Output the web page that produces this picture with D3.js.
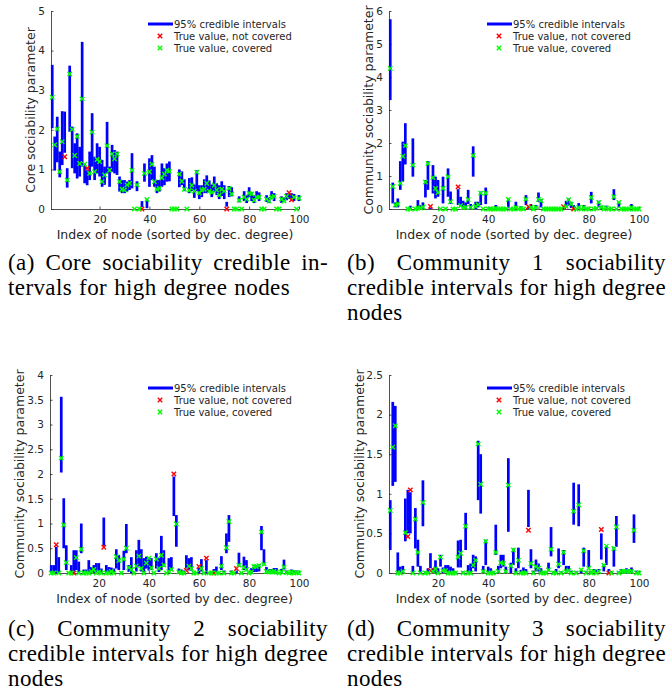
<!DOCTYPE html>
<html><head><meta charset="utf-8">
<script src="https://cdn.jsdelivr.net/npm/d3@7"></script>
<style>
body{margin:0;background:#fff;}
svg{display:block;}
</style></head><body>
<svg id="fig" width="668" height="692"></svg>
<script>
// Node index 1..100 (sorted by decreasing degree)
const nodeIndex = d3.range(1, 101);
const xTicks = [20, 40, 60, 80, 100];

// (a) core sociability: interval lower / upper bounds and true values
const coreLo = [
  2.04,0.97,1.18,0.80,1.11,1.42,0.54,1.95,1.03,0.90,
  0.77,0.82,1.07,0.65,0.60,0.73,1.07,0.73,0.90,0.82,
  0.56,0.61,0.90,0.56,0.94,0.90,0.86,0.44,0.40,0.40,
  0.44,0.48,0.52,0,0.45,0,0.05,0.69,0.02,0.56,
  0.73,0.56,0.40,0.44,0.56,0.60,0.69,0.70,0,0,
  0,0.55,0.60,0.45,0,0.40,0.45,0.28,0.45,0.25,
  0.30,0.40,0.40,0.42,0.30,0.42,0.35,0.25,0.33,0.25,
  0.06,0.30,0.32,0,0,0.17,0,0.20,0.15,0.30,
  0.20,0.15,0.25,0.20,0,0,0.18,0.15,0.25,0.20,
  0,0,0.15,0.18,0.22,0.25,0.26,0.20,0,0.20];
const coreHi = [
  3.64,1.83,2.33,1.45,2.47,2.46,1.03,3.62,2.08,1.66,
  1.91,1.57,4.22,1.15,0.98,1.45,2.42,1.32,1.66,1.57,
  1.24,1.07,2.20,1.07,1.62,1.49,1.45,0.82,0.73,0.73,
  0.69,0.73,1.41,0.01,0.70,0.01,0.20,1.15,0.25,1.28,
  1.36,1.07,0.73,0.73,1.15,1.03,1.15,1.20,0.01,0.01,
  0.01,1.00,0.95,0.75,0.01,0.78,0.80,0.62,0.98,0.60,
  0.60,0.75,0.85,0.72,0.62,0.82,0.65,0.60,0.70,0.60,
  0.18,0.58,0.55,0.01,0.01,0.32,0.01,0.45,0.35,0.55,
  0.42,0.35,0.45,0.42,0.01,0.01,0.35,0.30,0.45,0.40,
  0.01,0.01,0.32,0.30,0.40,0.38,0.40,0.38,0.01,0.35];
const coreTrue = [
  2.82,1.62,2.02,0.94,1.70,1.32,0.73,3.41,2.01,1.35,
  1.83,1.15,2.78,1.13,1.03,0.90,1.94,0.94,1.25,1.20,
  0.69,0.86,1.60,0.98,1.39,1.27,1.39,0.69,0.50,0.48,
  0.61,0.65,0.98,0,0.61,0,0,0.90,0.24,0.94,
  1.13,0.69,0.50,0.52,0.79,0.88,0.98,0.95,0,0,
  0,0.88,0.70,0.50,0,0.47,0.60,0.45,0.93,0.40,
  0.48,0.50,0.65,0.45,0.42,0.60,0.48,0.35,0.50,0.45,
  0,0.52,0.38,0,0,0.22,0,0.30,0.25,0.40,
  0.38,0.22,0.30,0.30,0,0,0.25,0.20,0.30,0.32,
  0,0,0.25,0.20,0.32,0.41,0.23,0.30,0,0.27];

// (b) community 1 sociability
const comm1Lo = [
  3.30,0.17,0.05,0.05,0.58,0.83,1.35,0,0,0.98,
  0,0,0,0,0.35,0.58,0,0.47,0.32,0.37,
  0,0.17,0,0.37,0.15,0,0,0.12,0.07,0.03,
  0,0.15,0,0.98,0,0.05,0.12,0,0.15,0,
  0,0,0,0,0,0,0,0.02,0,0,
  0.02,0,0,0,0.12,0,0.03,0,0.02,0.22,
  0.05,0,0,0,0,0,0,0,0,0,
  0.05,0.10,0.03,0.03,0,0.02,0,0.03,0,0,
  0.17,0,0,0.05,0,0,0.02,0,0,0.27,
  0,0.05,0,0,0,0,0.03,0,0,0];
const comm1Hi = [
  5.75,0.80,0.20,0.32,1.45,2.04,2.60,0.01,0.10,2.14,
  0.02,0.27,0.12,0.20,0.88,1.45,0.04,1.33,0.98,0.88,
  0.01,0.98,0.01,1.23,0.53,0.01,0.02,0.60,0.37,0.25,
  0.20,0.58,0.15,1.90,0.22,0.22,0.53,0.01,0.65,0.01,
  0.05,0.01,0.12,0.01,0.01,0.01,0.01,0.32,0.01,0.01,
  0.22,0.01,0.08,0.01,0.42,0.04,0.15,0.01,0.12,0.50,
  0.30,0.01,0.03,0.01,0.02,0.01,0.01,0.02,0.01,0.04,
  0.25,0.32,0.20,0.12,0.01,0.18,0.01,0.12,0.01,0.01,
  0.52,0.01,0.05,0.25,0.10,0.01,0.10,0.01,0.01,0.60,
  0.01,0.22,0.01,0.01,0.01,0.01,0.15,0.01,0.01,0.01];
const comm1True = [
  4.26,0.68,0.12,0.15,0.78,1.60,1.92,0,0,1.33,
  0,0.03,0.03,0.06,0.82,1.38,0.08,0.95,0.62,0.50,
  0,0.63,0,0.98,0.22,0,0,0.67,0.10,0.04,
  0.05,0.29,0.05,1.62,0.08,0.13,0.48,0,0.48,0,
  0,0,0.02,0,0,0,0,0.29,0,0,
  0.05,0,0.02,0,0.30,0.07,0.05,0,0.05,0.29,
  0.25,0,0,0,0,0,0,0,0,0.07,
  0.08,0.28,0.15,0,0,0.05,0,0.05,0,0,
  0.35,0,0.02,0.20,0.05,0,0.03,0,0,0.37,
  0,0.20,0,0,0,0,0.05,0,0,0];

// (c) community 2 sociability
const comm2Lo = [
  0,0,0,0,2.03,0.50,0.06,0,0,0.03,
  0.06,0,0.40,0,0,0,0,0,0,0,
  0,0.55,0,0,0,0,0.09,0.06,0,0.06,
  0.40,0.02,0,0,0.03,0.13,0.03,0,0.09,0.05,
  0.06,0,0.09,0.02,0.06,0.13,0,0,0.05,1.15,
  0.53,0,0,0,0.09,0.05,0.05,0,0,0,
  0.03,0,0,0,0,0.02,0,0,0.06,0,
  0.40,0.63,0,0,0,0.13,0,0.06,0.05,0,
  0,0.02,0.02,0.03,0.46,0.16,0.02,0,0,0,
  0,0,0,0.07,0,0,0,0,0,0];
const comm2Hi = [
  0.16,0.16,0.53,0.32,3.56,1.51,0.56,0.02,0.16,0.46,
  0.46,0.23,1.00,0.07,0.07,0.26,0.12,0.16,0.20,0.20,
  0.09,1.12,0.16,0.12,0.11,0.09,0.48,0.36,0.02,0.45,
  0.99,0.16,0.32,0.02,0.46,0.67,0.48,0.30,0.33,0.32,
  0.30,0.02,0.40,0.30,0.75,0.46,0.02,0.30,0.32,1.95,
  1.17,0.09,0.07,0.05,0.36,0.30,0.32,0.02,0.02,0.10,
  0.28,0.02,0.26,0.02,0.02,0.08,0.13,0.02,0.34,0.05,
  0.80,1.17,0.05,0.02,0.05,0.41,0.02,0.33,0.26,0.02,
  0.10,0.16,0.16,0.18,0.95,0.48,0.12,0.08,0.08,0.10,
  0.10,0.02,0.08,0.27,0.05,0.02,0.07,0.05,0.05,0.02];
const comm2True = [
  0,0,0.57,0,2.32,0.97,0.21,0,0,0,
  0.31,0,0.48,0,0,0,0.03,0.07,0,0.02,
  0,0.52,0,0,0.03,0,0.33,0.25,0,0.28,
  0.50,0.11,0.07,0,0.14,0.34,0.09,0,0.20,0.30,
  0.10,0,0.28,0.09,0.36,0.16,0,0.03,0.07,2.00,
  0.99,0.02,0,0,0.05,0.14,0.09,0,0,0.13,
  0.09,0,0.30,0,0,0,0,0,0.14,0,
  0.51,1.04,0,0,0.09,0.16,0,0.11,0.07,0,
  0.02,0.13,0.13,0.15,0.83,0.18,0.03,0.02,0.02,0.03,
  0.02,0,0.02,0.12,0.01,0,0.02,0,0.01,0];

// (d) community 3 sociability
const comm3Lo = [
  0.29,1.10,1.15,0,0,0,0.40,0.50,0.50,0,
  0.31,0.08,0,0.59,0,0,0.06,0,0,0,
  0.08,0,0.02,0,0,0,0,0.07,0.07,0,
  0.29,0,0,0.06,0.02,0.92,0.75,0,0.10,0,
  0,0,0.23,0,0.06,0.08,0,0.52,0,0.10,
  0,0.06,0,0,0,0.58,0.06,0,0.02,0.02,
  0,0,0,0.02,0.21,0,0,0.06,0,0.10,
  0.02,0.02,0,0.61,0,0.59,0,0.08,0,0.06,
  0,0.02,0,0.02,0.17,0.02,0.10,0.01,0,0.08,
  0.33,0,0,0,0,0,0,0.38,0,0];
const comm3Hi = [
  0.92,2.16,2.11,0.26,0.08,0.09,0.94,1.05,1.02,0.09,
  0.82,0.42,0.09,1.17,0.02,0.06,0.25,0.06,0.16,0.06,
  0.23,0.07,0.10,0.10,0.08,0.06,0.02,0.41,0.42,0.02,
  0.76,0.10,0.12,0.23,0.21,1.67,1.50,0.09,0.42,0.08,
  0.06,0.02,0.61,0.09,0.23,0.23,0.08,1.45,0.13,0.31,
  0.06,0.32,0.04,0.07,0.05,1.05,0.30,0.03,0.17,0.12,
  0.06,0.02,0.02,0.13,0.58,0.02,0.05,0.31,0.02,0.29,
  0.09,0.09,0.03,1.14,0.02,1.12,0.04,0.32,0.02,0.29,
  0.02,0.05,0.04,0.05,0.50,0.11,0.34,0.05,0.02,0.33,
  0.72,0.02,0.05,0.04,0.06,0.05,0.07,0.74,0.03,0.02];
const comm3True = [
  0.79,1.59,1.86,0,0,0.02,0.51,0.46,1.05,0,
  0.68,0.26,0,0.89,0,0,0.03,0.02,0.05,0,
  0.20,0.03,0.03,0,0,0,0,0.20,0.25,0,
  0.59,0,0,0.10,0.16,1.63,1.12,0.02,0.40,0,
  0,0,0.26,0.02,0.13,0.12,0.02,1.11,0.09,0.29,
  0,0.16,0,0,0,0.54,0.12,0,0.08,0.06,
  0,0,0,0.04,0.30,0,0,0.11,0,0.26,
  0.02,0.03,0,0.78,0,0.86,0.04,0.28,0,0.06,
  0,0.02,0,0.02,0.55,0.10,0.34,0,0,0.31,
  0.58,0,0.02,0.02,0.02,0.02,0.02,0.54,0,0];

// Y tick values per panel
const yTicksCore = [0, 1, 2, 3, 4, 5];
const yTicksComm1 = [0, 1, 2, 3, 4, 5, 6];
const yTicksComm2 = [0, 0.5, 1, 1.5, 2, 2.5, 3, 3.5, 4];
const yTicksComm3 = [0, 0.5, 1, 1.5, 2, 2.5];

// Text
const xLabel = "Index of node (sorted by dec. degree)";
const legendLabels = ["95% credible intervals", "True value, not covered", "True value, covered"];
const captionA = ["(a) Core sociability credible in-", "tervals for high degree nodes"];
const captionB = ["(b) Community 1 sociability", "credible intervals for high degree", "nodes"];
const captionC = ["(c) Community 2 sociability", "credible intervals for high degree", "nodes"];
const captionD = ["(d) Community 3 sociability", "credible intervals for high degree", "nodes"];

const BLUE = "#0000ff", RED = "#ff0000", GREEN = "#00ff00", AXIS = "#262626";
const SANS = "'DejaVu Sans', sans-serif";
const MARK_R = 2.2, MARK_W = 1.4;

const panels = [
  {lo: coreLo, hi: coreHi, tv: coreTrue, yMax: 5, yTicks: yTicksCore, ylabel: "Core sociability parameter",
   left: 51, right: 299, top: 11, bottom: 209, ylabX: 30, legX: 148, caption: captionA, capX: 8, capW: 320, capY: 270},
  {lo: comm1Lo, hi: comm1Hi, tv: comm1True, yMax: 6, yTicks: yTicksComm1, ylabel: "Community sociability parameter",
   left: 389, right: 639, top: 11, bottom: 209, ylabX: 368, legX: 487, caption: captionB, capX: 347, capW: 319, capY: 270},
  {lo: comm2Lo, hi: comm2Hi, tv: comm2True, yMax: 4, yTicks: yTicksComm2, ylabel: "Community sociability parameter",
   left: 50, right: 299, top: 375, bottom: 573, ylabX: 19, legX: 148, caption: captionC, capX: 8, capW: 320, capY: 636},
  {lo: comm3Lo, hi: comm3Hi, tv: comm3True, yMax: 2.5, yTicks: yTicksComm3, ylabel: "Community sociability parameter",
   left: 389, right: 639, top: 375, bottom: 573, ylabX: 359, legX: 487, caption: captionD, capX: 347, capW: 319, capY: 636}
];

const svg = d3.select("#fig");

function crossPath(cx, cy, r) {
  return `M${cx - r},${cy - r}L${cx + r},${cy + r}M${cx - r},${cy + r}L${cx + r},${cy - r}`;
}

function drawPanel(p) {
  const g = svg.append("g");
  const x = d3.scaleLinear().domain([0.5, 100]).range([p.left, p.right]);
  const y = d3.scaleLinear().domain([0, p.yMax]).range([p.bottom, p.top]);

  const rows = nodeIndex.map((n, i) => ({n, lo: p.lo[i], hi: p.hi[i], t: p.tv[i],
    covered: p.tv[i] >= p.lo[i] && p.tv[i] <= p.hi[i]}));

  // axes (box off, inward ticks)
  const ax = g.append("g").attr("transform", `translate(0,${p.bottom})`)
    .call(d3.axisBottom(x).tickValues(xTicks).tickSizeInner(-2.5).tickSizeOuter(0).tickPadding(6.5));
  const ay = g.append("g").attr("transform", `translate(${p.left},0)`)
    .call(d3.axisLeft(y).tickValues(p.yTicks).tickFormat(d => String(d)).tickSizeInner(-2.5).tickSizeOuter(0).tickPadding(6));
  [ax, ay].forEach(a => {
    a.select(".domain").attr("stroke", AXIS).attr("stroke-width", 0.8);
    a.selectAll(".tick line").attr("stroke", AXIS).attr("stroke-width", 0.8);
    a.selectAll(".tick text").attr("fill", AXIS).style("font-family", SANS).style("font-size", "10.5px");
  });

  // credible intervals
  g.append("g").selectAll("line").data(rows).join("line")
    .attr("x1", d => x(d.n)).attr("x2", d => x(d.n))
    .attr("y1", d => y(d.lo)).attr("y2", d => y(d.hi))
    .attr("stroke", BLUE).attr("stroke-width", 2.7);

  // true values: not covered, then covered
  g.append("g").selectAll("path").data(rows.filter(d => !d.covered)).join("path")
    .attr("d", d => crossPath(x(d.n), y(d.t), MARK_R))
    .attr("stroke", RED).attr("stroke-width", MARK_W).attr("fill", "none");
  g.append("g").selectAll("path").data(rows.filter(d => d.covered)).join("path")
    .attr("d", d => crossPath(x(d.n), y(d.t), MARK_R))
    .attr("stroke", GREEN).attr("stroke-width", MARK_W).attr("fill", "none");

  // axis labels
  g.append("text").attr("x", (p.left + p.right) / 2).attr("y", p.bottom + 25.3)
    .attr("text-anchor", "middle").attr("dominant-baseline", "central")
    .attr("fill", AXIS).style("font-family", SANS).style("font-size", "12.5px").text(xLabel);
  g.append("text").attr("transform", `translate(${p.ylabX},${(p.top + p.bottom) / 2}) rotate(-90)`)
    .attr("text-anchor", "middle").attr("dominant-baseline", "central")
    .attr("fill", AXIS).style("font-family", SANS).style("font-size", "12.5px").text(p.ylabel);

  // legend
  const lg = g.append("g");
  const ly = [p.top + 13, p.top + 25, p.top + 37];
  lg.append("line").attr("x1", p.legX).attr("x2", p.legX + 25).attr("y1", ly[0]).attr("y2", ly[0])
    .attr("stroke", BLUE).attr("stroke-width", 3);
  lg.append("path").attr("d", crossPath(p.legX + 12, ly[1], MARK_R)).attr("stroke", RED).attr("stroke-width", MARK_W);
  lg.append("path").attr("d", crossPath(p.legX + 12, ly[2], MARK_R)).attr("stroke", GREEN).attr("stroke-width", MARK_W);
  legendLabels.forEach((t, i) => {
    lg.append("text").attr("x", p.legX + 26).attr("y", ly[i]).attr("dominant-baseline", "central")
      .attr("fill", AXIS).style("font-family", SANS).style("font-size", "10px").text(t);
  });

  // caption, justified except on its last line
  const cg = svg.append("g").style("font-family", "'Liberation Serif', 'Times New Roman', serif")
    .style("font-size", "23px").style("letter-spacing", "0.4px").attr("fill", "#000");
  p.caption.forEach((line, li) => {
    const words = line.split(" ");
    const yy = p.capY + li * 25;
    const nodes = words.map(w => cg.append("text").attr("y", yy).text(w));
    const widths = nodes.map(n => n.node().getComputedTextLength());
    const last = li === p.caption.length - 1;
    const gap = (!last && words.length > 1) ? (p.capW - d3.sum(widths)) / (words.length - 1) : 7;
    let cx = p.capX;
    nodes.forEach((n, i) => { n.attr("x", cx); cx += widths[i] + gap; });
  });
}

panels.forEach(drawPanel);
</script>
</body></html>
